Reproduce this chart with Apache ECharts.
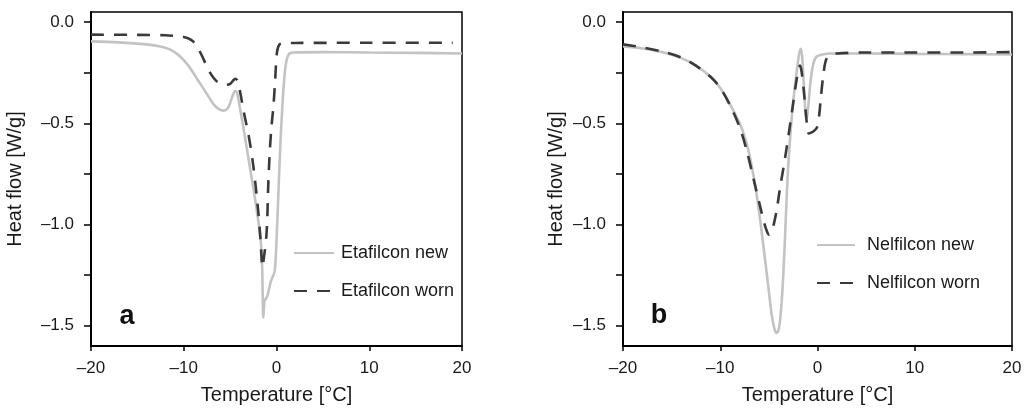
<!DOCTYPE html>
<html>
<head>
<meta charset="utf-8">
<script src="https://cdn.jsdelivr.net/npm/echarts@6/dist/echarts.min.js"></script>
<style>html,body{margin:0;padding:0;background:#fff}#c{width:1029px;height:410px}</style>
</head>
<body>
<div id="c"></div>
<script>
// ---- Data ----
// Panel a: Etafilcon
const tempA_new = [-20, -17, -14, -12.5, -11.5, -10.5, -9.5, -8.5, -7.5, -6.8, -6.2, -5.7, -5.3, -5.0, -4.7, -4.45, -4.25, -4.0, -3.5, -3.0, -2.5, -2.0, -1.7, -1.55, -1.42, -1.3, -1.2, -1.0, -0.6, -0.2, 0.0, 0.2, 0.4, 0.6, 0.8, 1.0, 1.3, 1.8, 5, 10, 15, 20];
const flowA_new = [-0.095, -0.1, -0.11, -0.12, -0.135, -0.165, -0.215, -0.285, -0.355, -0.405, -0.43, -0.437, -0.428, -0.4, -0.36, -0.34, -0.35, -0.41, -0.54, -0.68, -0.82, -0.97, -1.08, -1.2, -1.46, -1.38, -1.37, -1.355, -1.28, -1.23, -1.08, -0.85, -0.62, -0.44, -0.3, -0.21, -0.16, -0.15, -0.148, -0.15, -0.152, -0.155];
const tempA_worn = [-20, -15, -12, -10.5, -10, -9.5, -9, -8.5, -8, -7.5, -7, -6.5, -6, -5.5, -5.0, -4.7, -4.45, -4.2, -3.9, -3.5, -3.0, -2.5, -2.0, -1.75, -1.5, -1.35, -1.24, -1.1, -1.0, -0.9, -0.75, -0.55, -0.34, -0.15, 0.02, 0.2, 0.5, 2, 10, 19];
const flowA_worn = [-0.062, -0.063, -0.065, -0.07, -0.073, -0.08, -0.095, -0.125, -0.17, -0.22, -0.262, -0.29, -0.305, -0.31, -0.305, -0.29, -0.28, -0.29, -0.35, -0.45, -0.56, -0.71, -0.92, -1.06, -1.21, -1.16, -1.12, -1.06, -0.98, -0.82, -0.66, -0.52, -0.42, -0.29, -0.16, -0.12, -0.105, -0.103, -0.102, -0.102];
// Panel b: Nelfilcon
const tempB_new = [-20, -18, -16, -14, -12.5, -11, -10, -9, -8, -7.5, -7, -6.5, -6, -5.5, -5, -4.7, -4.4, -4.2, -4.0, -3.8, -3.6, -3.4, -3.2, -3.0, -2.7, -2.4, -2.1, -1.9, -1.73, -1.6, -1.45, -1.3, -1.18, -1.05, -0.9, -0.75, -0.6, -0.4, -0.1, 0.5, 1.3, 5, 10, 15, 20];
const flowB_new = [-0.12, -0.13, -0.148, -0.178, -0.215, -0.27, -0.325, -0.405, -0.5, -0.565, -0.655, -0.78, -0.94, -1.13, -1.33, -1.45, -1.52, -1.535, -1.52, -1.45, -1.32, -1.13, -0.9, -0.7, -0.5, -0.35, -0.23, -0.16, -0.132, -0.16, -0.27, -0.4, -0.475, -0.46, -0.39, -0.31, -0.25, -0.2, -0.17, -0.16, -0.155, -0.155, -0.157, -0.158, -0.16];
const tempB_worn = [-20, -18, -16, -14, -12.5, -11, -10, -9, -8, -7.3, -6.6, -6.0, -5.6, -5.3, -5.0, -4.75, -4.5, -4.2, -3.86, -3.5, -3.17, -2.8, -2.5, -2.2, -1.95, -1.8, -1.65, -1.45, -1.25, -1.05, -0.9, -0.6, -0.3, -0.05, 0.15, 0.35, 0.6, 0.85, 1.2, 2, 5, 10, 15, 20];
const flowB_worn = [-0.11, -0.125, -0.145, -0.175, -0.215, -0.27, -0.325, -0.41, -0.52, -0.63, -0.77, -0.89, -0.97, -1.02, -1.05, -1.045, -1.0, -0.93, -0.82, -0.72, -0.62, -0.5, -0.4, -0.3, -0.23, -0.215, -0.24, -0.32, -0.42, -0.52, -0.55, -0.545, -0.535, -0.52, -0.47, -0.37, -0.26, -0.19, -0.165, -0.155, -0.15, -0.15, -0.15, -0.148];

const xTicks = [-20, -10, 0, 10, 20];
const yLabelTicks = [0, -0.5, -1.0, -1.5];
const yMinorTicks = [0, -0.25, -0.5, -0.75, -1.0, -1.25, -1.5];
const names = { aNew: 'Etafilcon new', aWorn: 'Etafilcon worn', bNew: 'Nelfilcon new', bWorn: 'Nelfilcon worn' };

// ---- Chart ----
const zip = (xs, ys) => xs.map((x, i) => [x, ys[i]]);
const FONT = '"Liberation Sans", Arial, sans-serif';
const TXT = '#1a1a1a';
const fmt = (d) => (v) => (v < 0 ? '\u2013' : '') + Math.abs(v).toFixed(d);
const GRAY = '#c3c3c3', DARK = '#3a3a3a';

function xAxis(idx, gap) {
  return {
    type: 'value', gridIndex: idx, min: -20, max: 20, interval: 10,
    name: 'Temperature [°C]', nameLocation: 'middle', nameGap: gap,
    nameTextStyle: { fontFamily: FONT, fontSize: 20, color: TXT },
    axisLine: { show: true, onZero: false, lineStyle: { color: '#000', width: 2 } },
    axisTick: { show: true, length: 5, lineStyle: { color: '#000', width: 1.5 }, customValues: xTicks },
    axisLabel: { fontFamily: FONT, fontSize: 17, color: TXT, margin: 14, formatter: fmt(0), customValues: xTicks },
    splitLine: { show: false }
  };
}
function yAxis(idx, gap) {
  return {
    type: 'value', gridIndex: idx, min: -1.6, max: 0.05,
    name: 'Heat flow [W/g]', nameLocation: 'middle', nameGap: gap,
    nameTextStyle: { fontFamily: FONT, fontSize: 20, color: TXT },
    axisLine: { show: true, onZero: false, lineStyle: { color: '#000', width: 2 } },
    axisTick: { show: true, length: 7, lineStyle: { color: '#000', width: 1.5 }, customValues: yMinorTicks },
    axisLabel: { fontFamily: FONT, fontSize: 17, color: TXT, margin: 17, formatter: fmt(1), customValues: yLabelTicks },
    splitLine: { show: false }
  };
}
function line(name, xi, data, color, dashed) {
  return {
    name, type: 'line', xAxisIndex: xi, yAxisIndex: xi, data,
    symbol: 'none', smooth: 0.3, animation: false,
    lineStyle: { color, width: 2.6, type: dashed ? [13, 10] : 'solid' },
    itemStyle: { color }
  };
}
function legend(names, left, top, iconW, textPad) {
  return {
    data: names, orient: 'vertical', left, top, padding: 0,
    itemWidth: iconW, itemHeight: 14, itemGap: 20,
    itemStyle: { opacity: 0 },
    textStyle: { fontFamily: FONT, fontSize: 18, color: TXT, padding: [0, 0, 0, textPad] },
    selectedMode: false
  };
}

const chart = echarts.init(document.getElementById('c'), null, { renderer: 'canvas' });
chart.setOption({
  animation: false,
  backgroundColor: '#fff',
  grid: [
    { left: 91, top: 12, width: 371, height: 335, show: true, borderColor: '#000', borderWidth: 1.5, backgroundColor: 'transparent' },
    { left: 623, top: 12, width: 389, height: 335, show: true, borderColor: '#000', borderWidth: 1.5, backgroundColor: 'transparent' }
  ],
  xAxis: [xAxis(0, 39), xAxis(1, 39)],
  yAxis: [yAxis(0, 66), yAxis(1, 57)],
  legend: [legend([names.aNew, names.aWorn], 293, 244, 40, 2), legend([names.bNew, names.bWorn], 816, 236, 38, 7)],
  series: [
    line(names.aNew, 0, zip(tempA_new, flowA_new), GRAY, false),
    line(names.aWorn, 0, zip(tempA_worn, flowA_worn), DARK, true),
    line(names.bNew, 1, zip(tempB_new, flowB_new), GRAY, false),
    line(names.bWorn, 1, zip(tempB_worn, flowB_worn), DARK, true)
  ],
  graphic: [
    { type: 'text', x: 127, y: 317, style: { text: 'a', font: 'bold 27px ' + FONT, fill: '#111', align: 'center', verticalAlign: 'middle' } },
    { type: 'text', x: 659, y: 316, style: { text: 'b', font: 'bold 27px ' + FONT, fill: '#111', align: 'center', verticalAlign: 'middle' } }
  ]
});
</script>
</body>
</html>
